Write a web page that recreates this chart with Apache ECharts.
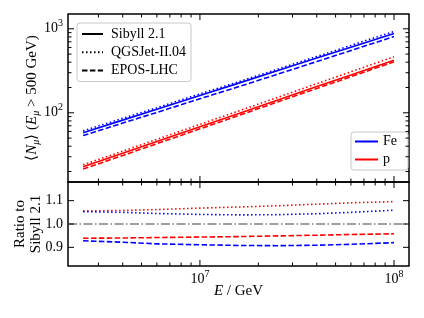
<!DOCTYPE html>
<html>
<head>
<meta charset="utf-8">
<script src="https://cdn.jsdelivr.net/npm/echarts@6/dist/echarts.min.js"></script>
<style>html,body{margin:0;padding:0;background:#fff;}#chart{width:424px;height:318px;}</style>
</head>
<body>
<div id="chart"></div>
<script>
// ---- data ----
const energies = [2.5e6, 4e6, 6e6, 1e7, 1.6e7, 2.5e7, 4e7, 6e7, 1e8];
const feSibyll = [57.8, 81.8, 110, 161, 227, 316, 448, 604, 879];
const feQGSJet = [60.9, 85.9, 115, 168, 236, 329, 468, 634, 931];
const feEPOS   = [53.6, 75.4, 101, 147, 206, 287, 407, 551, 809];
const pSibyll  = [22.8, 33.0, 45.5, 68.2, 98.9, 141, 205, 282, 423];
const pQGSJet  = [24.1, 34.9, 48.3, 72.8, 106, 152, 222, 308, 464];
const pEPOS    = [21.4, 31.0, 42.9, 64.4, 93.6, 134, 195, 269, 405];
const ratioQGSJetP  = [1.056, 1.058, 1.062, 1.068, 1.073, 1.078, 1.085, 1.091, 1.096];
const ratioQGSJetFe = [1.053, 1.050, 1.045, 1.041, 1.039, 1.040, 1.044, 1.050, 1.059];
const ratioEPOSP    = [0.939, 0.940, 0.942, 0.944, 0.946, 0.949, 0.952, 0.955, 0.958];
const ratioEPOSFe   = [0.928, 0.922, 0.915, 0.911, 0.908, 0.907, 0.909, 0.913, 0.920];
const modelNames = ['Sibyll 2.1', 'QGSJet-II.04', 'EPOS-LHC'];
const primaryNames = ['Fe', 'p'];
const xMajorTicks = [1e7, 1e8];
const xMajorLabels = ['7', '8'];
const xMinorTicks = [3e6, 4e6, 5e6, 6e6, 7e6, 8e6, 9e6, 2e7, 3e7, 4e7, 5e7, 6e7, 7e7, 8e7, 9e7];
const yMajorTicks = [100, 1000];
const yMajorLabels = ['2', '3'];
const yMinorTicks = [20, 30, 40, 50, 60, 70, 80, 90, 200, 300, 400, 500, 600, 700, 800, 900];
const ratioTicks = [0.9, 1.0, 1.1];
const ratioLabels = ['0.9', '1.0', '1.1'];

const xRange = [2.09e6, 1.195e8];
const yRange = [15, 1500];
const rRange = [0.82, 1.18];

const FONT = 'Liberation Serif';
const BLUE = '#0000ff', RED = '#ff0000';
const DOT = [1.5, 2.5], DASH = [5.5, 2.4];

const zip = (xs, ys) => xs.map((x, i) => [x, ys[i]]);

function lineSeries(name, xi, data, color, type) {
  return {
    name: name, type: 'line', xAxisIndex: xi, yAxisIndex: xi,
    data: data, symbol: 'none', silent: true,
    lineStyle: { color: color, width: 1.6, type: type, cap: 'butt' },
    itemStyle: { color: color }, z: 3
  };
}

const supRich = {
  b: { fontFamily: FONT, fontSize: 14, color: '#000', lineHeight: 20, verticalAlign: 'middle' },
  s: { fontFamily: FONT, fontSize: 10, color: '#000', lineHeight: 8, verticalAlign: 'top' }
};

function tickSeries(gi, xr, yr, xMaj, xMin, yMaj, yMin, xLabels, yLabels, yLabelRich) {
  return {
    type: 'custom', xAxisIndex: gi, yAxisIndex: gi, silent: true, clip: false, z: 10,
    data: [[xr[0], yr[0]]],
    renderItem: function (params, api) {
      const ch = [];
      const L = 6, l = 3.5;
      const ls = { stroke: '#000', lineWidth: 1 };
      function vt(v, len) {
        const b = api.coord([v, yr[0]]), t = api.coord([v, yr[1]]);
        ch.push({ type: 'line', shape: { x1: b[0], y1: b[1], x2: b[0], y2: b[1] - len }, style: ls });
        ch.push({ type: 'line', shape: { x1: t[0], y1: t[1], x2: t[0], y2: t[1] + len }, style: ls });
      }
      function ht(v, len) {
        const a = api.coord([xr[0], v]), c = api.coord([xr[1], v]);
        ch.push({ type: 'line', shape: { x1: a[0], y1: a[1], x2: a[0] + len, y2: a[1] }, style: ls });
        ch.push({ type: 'line', shape: { x1: c[0], y1: c[1], x2: c[0] - len, y2: c[1] }, style: ls });
      }
      xMaj.forEach(v => vt(v, L));
      xMin.forEach(v => vt(v, l));
      yMaj.forEach(v => ht(v, L));
      yMin.forEach(v => ht(v, l));
      if (xLabels) {
        xMaj.forEach((v, i) => {
          const p = api.coord([v, yr[0]]);
          ch.push({ type: 'text', x: p[0], y: p[1] + 3, style: {
            text: '{b|10}{s|' + xLabels[i] + '}', rich: supRich, align: 'center', verticalAlign: 'top'
          }});
        });
      }
      if (yLabels) {
        yMaj.forEach((v, i) => {
          const p = api.coord([xr[0], v]);
          ch.push({ type: 'text', x: p[0] - 5, y: p[1], style: yLabelRich ? {
            text: '{b|10}{s|' + yLabels[i] + '}', rich: supRich, align: 'right', verticalAlign: 'middle'
          } : {
            text: yLabels[i], fontFamily: FONT, fontSize: 14, fill: '#000', align: 'right', verticalAlign: 'middle'
          }});
        });
      }
      return { type: 'group', children: ch };
    }
  };
}

const chart = echarts.init(document.getElementById('chart'), null, { renderer: 'canvas' });

const hiddenAxisBits = { axisLine: { show: false }, axisTick: { show: false }, axisLabel: { show: false }, splitLine: { show: false } };
const legendCommon = {
  orient: 'vertical', itemHeight: 15, borderColor: '#c8c8c8', borderWidth: 1, borderRadius: 3,
  backgroundColor: '#fff', selectedMode: false,
  itemStyle: { color: 'rgba(0,0,0,0)', borderWidth: 0, opacity: 0 }
};

const option = {
  animation: false,
  backgroundColor: '#fff',
  grid: [
    { left: 68, right: 15, top: 14, height: 168, show: true, borderColor: '#000', borderWidth: 1.5, backgroundColor: 'transparent' },
    { left: 68, right: 15, top: 182, height: 84, show: true, borderColor: '#000', borderWidth: 1.5, backgroundColor: 'transparent' }
  ],
  xAxis: [
    Object.assign({ type: 'log', gridIndex: 0, min: xRange[0], max: xRange[1], logBase: 10 }, hiddenAxisBits),
    Object.assign({ type: 'log', gridIndex: 1, min: xRange[0], max: xRange[1], logBase: 10,
      name: '{i|E}{r| / GeV}', nameLocation: 'middle', nameGap: 18,
      nameTextStyle: { rich: {
        i: { fontFamily: FONT, fontSize: 15, fontStyle: 'italic', color: '#000' },
        r: { fontFamily: FONT, fontSize: 15, color: '#000' }
      } } }, hiddenAxisBits)
  ],
  yAxis: [
    Object.assign({ type: 'log', gridIndex: 0, min: yRange[0], max: yRange[1], logBase: 10,
      name: '{r|⟨}{i|N}{u|μ}{r|⟩ (}{i|E}{u|μ}{r| > 500 GeV)}', nameLocation: 'middle', nameRotate: 90, nameGap: 27,
      nameTextStyle: { rich: {
        r: { fontFamily: FONT, fontSize: 15, color: '#000', lineHeight: 18 },
        i: { fontFamily: FONT, fontSize: 15, fontStyle: 'italic', color: '#000', lineHeight: 18 },
        u: { fontFamily: FONT, fontSize: 10, fontStyle: 'italic', color: '#000', lineHeight: 10, verticalAlign: 'bottom' }
      } } }, hiddenAxisBits),
    Object.assign({ type: 'value', gridIndex: 1, min: rRange[0], max: rRange[1],
      name: 'Ratio to\nSibyll 2.1', nameLocation: 'middle', nameRotate: 90, nameGap: 24,
      nameTextStyle: { fontFamily: FONT, fontSize: 15, color: '#000', lineHeight: 16 } }, hiddenAxisBits)
  ],
  legend: [
    Object.assign({}, legendCommon, { data: modelNames, left: 77, top: 23, itemWidth: 21, itemGap: 4.3, padding: [4, 5, 4, 4],
      textStyle: { fontFamily: FONT, fontSize: 14, color: '#000', padding: [0, 0, 0, 3] } }),
    Object.assign({}, legendCommon, { data: primaryNames, left: 351, top: 132, itemWidth: 23, itemGap: 4, padding: [2.5, 11, 3.5, 3],
      textStyle: { fontFamily: FONT, fontSize: 14, color: '#000' } })
  ],
  series: [
    // legend proxies
    { name: modelNames[0], type: 'line', data: [], symbol: 'none', lineStyle: { color: '#000', width: 1.6, type: 'solid' }, itemStyle: { color: '#000' } },
    { name: modelNames[1], type: 'line', data: [], symbol: 'none', lineStyle: { color: '#000', width: 1.6, type: DOT }, itemStyle: { color: '#000' } },
    { name: modelNames[2], type: 'line', data: [], symbol: 'none', lineStyle: { color: '#000', width: 1.6, type: DASH }, itemStyle: { color: '#000' } },
    { name: primaryNames[0], type: 'line', data: [], symbol: 'none', lineStyle: { color: BLUE, width: 1.6 }, itemStyle: { color: BLUE } },
    { name: primaryNames[1], type: 'line', data: [], symbol: 'none', lineStyle: { color: RED, width: 1.6 }, itemStyle: { color: RED } },
    // top panel
    lineSeries('Fe Sibyll', 0, zip(energies, feSibyll), BLUE, 'solid'),
    lineSeries('Fe QGSJet', 0, zip(energies, feQGSJet), BLUE, DOT),
    lineSeries('Fe EPOS', 0, zip(energies, feEPOS), BLUE, DASH),
    lineSeries('p Sibyll', 0, zip(energies, pSibyll), RED, 'solid'),
    lineSeries('p QGSJet', 0, zip(energies, pQGSJet), RED, DOT),
    lineSeries('p EPOS', 0, zip(energies, pEPOS), RED, DASH),
    // bottom panel
    lineSeries('ratio p QGSJet', 1, zip(energies, ratioQGSJetP), RED, DOT),
    lineSeries('ratio Fe QGSJet', 1, zip(energies, ratioQGSJetFe), BLUE, DOT),
    lineSeries('ratio p EPOS', 1, zip(energies, ratioEPOSP), RED, DASH),
    lineSeries('ratio Fe EPOS', 1, zip(energies, ratioEPOSFe), BLUE, DASH),
    { name: 'unity', type: 'line', xAxisIndex: 1, yAxisIndex: 1, data: [], silent: true,
      markLine: { symbol: 'none', silent: true, label: { show: false },
        lineStyle: { color: '#808080', width: 1.5, type: [9, 2.5, 1.5, 2.5] },
        data: [{ yAxis: 1.0 }] } },
    // ticks & labels
    tickSeries(0, xRange, yRange, xMajorTicks, xMinorTicks, yMajorTicks, yMinorTicks, null, yMajorLabels, true),
    tickSeries(1, xRange, rRange, xMajorTicks, xMinorTicks, ratioTicks, [], xMajorLabels, ratioLabels, false)
  ]
};
chart.setOption(option);
</script>
</body>
</html>
